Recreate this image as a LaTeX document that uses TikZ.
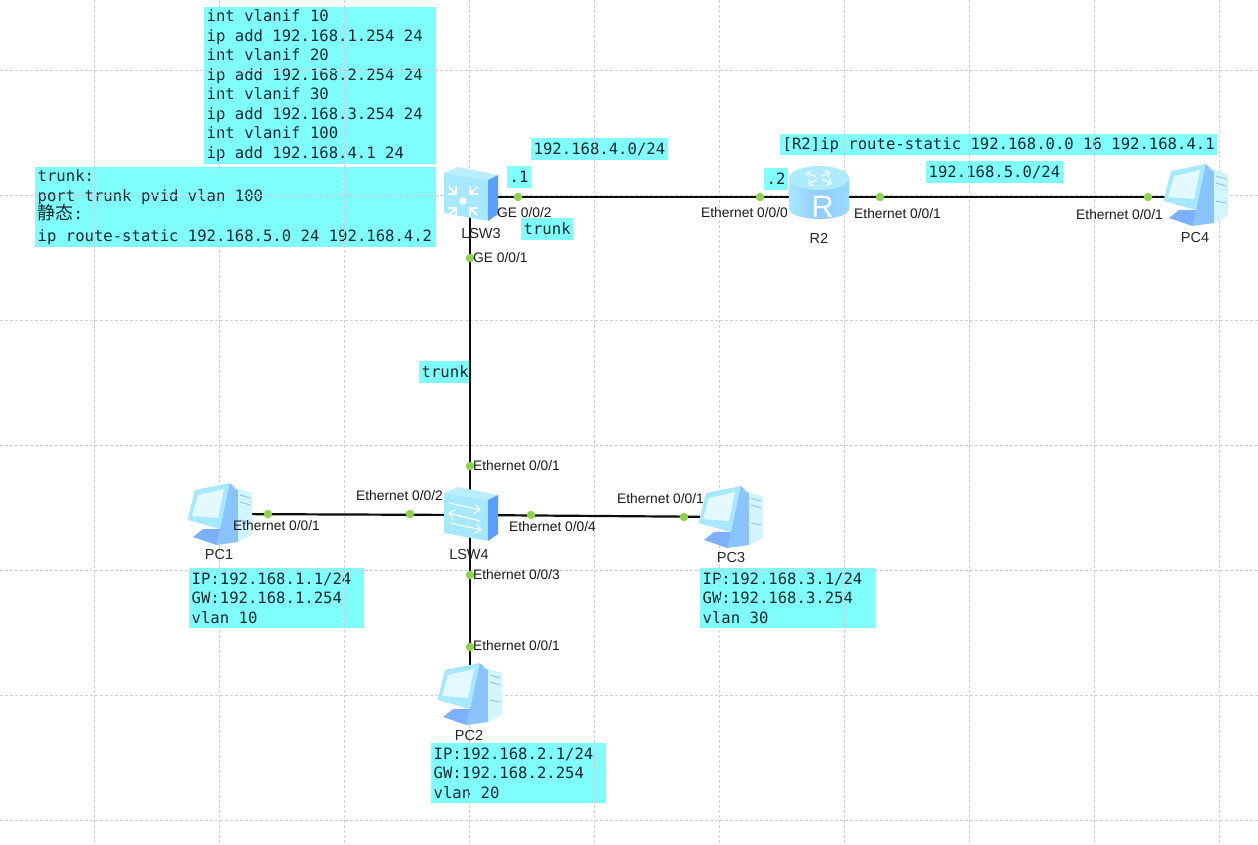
\documentclass[tikz,border=0pt]{standalone}
\usepackage{fontspec}
\setmainfont{Liberation Sans}
\setmonofont{DejaVu Sans Mono}
\newfontfamily\cjk{Noto Sans CJK SC}
\usetikzlibrary{arrows.meta,positioning,calc}
\definecolor{InfoC}{HTML}{80FFFF}
\definecolor{InfoInk}{HTML}{14282A}
\definecolor{GridC}{HTML}{CFCFCF}
\definecolor{PortC}{HTML}{8CD24A}
\definecolor{IconPale}{HTML}{D2F5FF}
\definecolor{IconLight}{HTML}{A6E9FF}
\definecolor{IconMid}{HTML}{8AC4FF}
\definecolor{IconDeep}{HTML}{5C9EFF}
\tikzset{
  pcicon/.pic={
    \fill[IconMid] (10.5,-31) -- (19,-24) -- (19,28) -- (-2.5,31) -- (1,14) -- cycle;
    \fill[IconPale] (12.5,-27) -- (33,-21) -- (33,21) -- (19,28) -- (19,-24) -- cycle;
    \draw[IconMid,line width=.9pt] (21,-19) -- (31,-16) (21,-12) -- (31,-9) (21,6) -- (31,8);
    \fill[IconDeep!80] (-16,15) -- (1,15) -- (-2.5,31) -- (-26,23) -- cycle;
    \fill[IconLight] (-24,-24) -- (10.5,-31) -- (1,15) -- (-31.5,6) -- cycle;
    \fill[IconPale!60!white] (-21,-19) -- (5,-25) -- (-1,4) -- (-27,2) -- cycle;
  },
  switchbody/.pic={
    \fill[IconLight!60!IconPale] (-26,-22) -- (-12,-28) -- (28,-20) -- (18,-15) -- cycle;
    \fill[IconLight] (-26,-22) -- (18,-15) -- (18,26) -- (-26,18) -- cycle;
    \fill[IconDeep] (18,-15) -- (28,-20) -- (28,19) -- (18,26) -- cycle;
  },
  accessicon/.pic={
    \pic {switchbody};
    \draw[white,line width=1.1pt,-{Straight Barb[length=2mm,width=3.5mm]}] (-21,-12) -- (11,-5);
    \draw[white,line width=1.1pt,-{Straight Barb[length=2mm,width=3.5mm]}] (10,6) -- (-22,-2);
    \draw[white,line width=1.1pt,-{Straight Barb[length=2mm,width=3.5mm]}] (-20,8) -- (12,15);
  },
  coreicon/.pic={
    \pic {switchbody};
    \fill[white] (-7,6) circle[radius=3.8];
    \foreach \a in {45,135,225,315}
      \draw[white,line width=2pt,-{Straight Barb[length=2mm,width=4mm]}] ($(-7,6)+(\a:20)$) -- ($(-7,6)+(\a:8)$);
  },
  routericon/.pic={
    \shade[left color=IconLight,right color=IconLight!80!IconDeep,middle color=IconMid!80!IconLight]
      (-30,-19) -- (-30,12) arc[start angle=180,end angle=0,x radius=30,y radius=10] -- (30,-19) -- cycle;
    \fill[IconLight!80!IconPale] (0,-19) ellipse[x radius=30,y radius=12];
    \foreach \a in {40,130,220,310}
      \draw[IconPale!50!white,line width=1.6pt,-{Straight Barb[length=1.2mm,width=2.6mm]}] ($(0,-19)+(\a:4 and 2)$) -- ($(0,-19)+(\a:17 and 9)$);
    \node[font=\fontsize{31}{31}\selectfont,text=white,inner sep=0pt] (rletter) at (3.5,9.5) {R};
  },
}
\begin{document}
\begin{tikzpicture}[
  x=1pt, y=-1pt,
  infobox/.style={fill=InfoC, text=InfoInk, font=\fontsize{15.6}{19.5}\selectfont\ttfamily, align=flush left, inner xsep=2.5pt, inner ysep=2.5pt},
  tagbox/.style={infobox, inner ysep=0.5pt, minimum height=22pt},
  pcinfo/.style={infobox, anchor=north west, text width=170pt, inner ysep=4.5pt},
  gridline/.style={GridC, densely dashed, line width=.7pt},
  link/.style={black!95, line width=2.2pt},
  device/.style={inner sep=0pt, minimum size=1pt},
  port/.style={circle, fill=PortC, inner sep=0pt, minimum size=8.5pt},
  portname/.style={font=\fontsize{13.8}{14}\selectfont, text=black!90, anchor=west, inner sep=0pt},
  devname/.style={font=\fontsize{14.5}{15}\selectfont, text=black!85, inner sep=0pt}
]
\useasboundingbox (0,0) rectangle (1258,845);
\fill[white] (0,0) rectangle (1258,845);
% configuration boxes
\node[infobox, anchor=north west, text width=227pt] (cfgvlan) at (204,7) {int vlanif 10\\ip add 192.168.1.254 24\\int vlanif 20\\ip add 192.168.2.254 24\\int vlanif 30\\ip add 192.168.3.254 24\\int vlanif 100\\ip add 192.168.4.1 24};
\node[infobox, anchor=north west, text width=396pt] (cfgtrunk) at (35,167) {trunk:\\port trunk pvid vlan 100\\[-1.5pt]{\cjk\fontsize{18}{19.5}\selectfont 静态}:\\[2.5pt]ip route-static 192.168.5.0 24 192.168.4.2};
\node[tagbox, anchor=north west, minimum height=21pt] (cfgr2) at (780,134) {[R2]ip route-static 192.168.0.0 16 192.168.4.1};
\node[tagbox, anchor=west] (netfour) at (531,149) {192.168.4.0/24};
\node[tagbox, anchor=west] (netfive) at (926,172) {192.168.5.0/24};
\node[tagbox, anchor=west] (dotone) at (507,177) {.1};
\node[tagbox, anchor=west] (dottwo) at (764,179) {.2};
\node[tagbox, anchor=west] (trunkup) at (521,229) {trunk};
\node[tagbox, anchor=west] (trunkdown) at (419,372) {trunk};
\node[pcinfo] (infopc1) at (189,568) {IP:192.168.1.1/24\\GW:192.168.1.254\\vlan 10};
\node[pcinfo] (infopc3) at (700,568) {IP:192.168.3.1/24\\GW:192.168.3.254\\vlan 30};
\node[pcinfo] (infopc2) at (431,743) {IP:192.168.2.1/24\\GW:192.168.2.254\\vlan 20};
% grid
\foreach \gx in {94.5,219.5,...,1220} \draw[gridline] (\gx,0) -- (\gx,845);
\foreach \gy in {70,195,...,821} \draw[gridline] (0,\gy) -- (1258,\gy);
% devices
\node[device] (lsw3) at (470,197) {};
\node[device] (r2) at (819,197) {};
\node[device] (pc4) at (1195,197) {};
\node[device] (lsw4) at (470,515) {};
\node[device] (pc1) at (219,514) {};
\node[device] (pc3) at (730,517) {};
\node[device] (pc2) at (470,694) {};
% links
\draw[link] (lsw3) -- (r2);
\draw[link] (r2) -- (pc4);
\draw[link] (lsw3) -- (lsw4);
\draw[link] (lsw4) -- (pc1);
\draw[link] (lsw4) -- (pc3);
\draw[link] (lsw4) -- (pc2);
% icons
\pic[yshift=2pt] at (lsw3) {coreicon};
\pic at (r2) {routericon};
\pic[yshift=2pt] at (pc4) {pcicon};
\pic at (lsw4) {accessicon};
\pic at (pc1) {pcicon};
\pic at (pc3) {pcicon};
\pic[xshift=-1pt] at (pc2) {pcicon};
% ports
\node[port] (p32) at (518,197) {};
\node[port] (p31) at (470,258) {};
\node[port] (pr0) at (760,197) {};
\node[port] (pr1) at (880,197) {};
\node[port] (pc4p) at (1148,197) {};
\node[port] (p41) at (470,466) {};
\node[port] (p42) at (410,514) {};
\node[port] (p44) at (531,515) {};
\node[port] (p43) at (470,575) {};
\node[port] (pc3p) at (684,517) {};
\node[port] (pc2p) at (470,647) {};
\node[port] (pc1p) at (268,514) {};
% port names
\node[portname] (n32) at (497,213) {GE 0/0/2};
\node[portname] (n31) at (473,258) {GE 0/0/1};
\node[portname] (nr0) at (701,213) {Ethernet 0/0/0};
\node[portname] (nr1) at (854,214) {Ethernet 0/0/1};
\node[portname] (npc4) at (1076,215) {Ethernet 0/0/1};
\node[portname] (n41) at (473,466) {Ethernet 0/0/1};
\node[portname] (n42) at (356,496) {Ethernet 0/0/2};
\node[portname] (n44) at (509,527) {Ethernet 0/0/4};
\node[portname] (n43) at (473,575) {Ethernet 0/0/3};
\node[portname] (npc3) at (617,499) {Ethernet 0/0/1};
\node[portname] (npc2) at (473,646) {Ethernet 0/0/1};
\node[portname] (npc1) at (233,526) {Ethernet 0/0/1};
% device names
\node[devname] (lsw3name) at (481,234) {LSW3};
\node[devname] (r2name) at (819,238) {R2};
\node[devname] (pc4name) at (1195,238) {PC4};
\node[devname] (lsw4name) at (469,555) {LSW4};
\node[devname] (pc1name) at (219,555) {PC1};
\node[devname] (pc3name) at (731,558) {PC3};
\node[devname] (pc2name) at (469,736) {PC2};
\end{tikzpicture}
\end{document}
